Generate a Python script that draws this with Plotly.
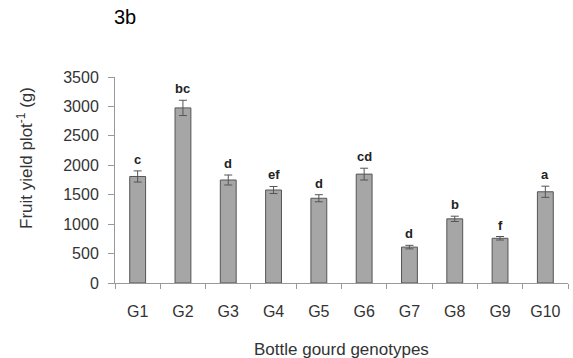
import plotly.graph_objects as go

genotypes = ["G1", "G2", "G3", "G4", "G5", "G6", "G7", "G8", "G9", "G10"]
yield_g = [1810, 2975, 1750, 1580, 1440, 1850, 610, 1090, 760, 1550]
yield_se = [95, 130, 85, 60, 60, 100, 30, 45, 30, 95]
letters = ["c", "bc", "d", "ef", "d", "cd", "d", "b", "f", "a"]
y_ticks = [0, 500, 1000, 1500, 2000, 2500, 3000, 3500]

FONT = "Liberation Sans, Arial, sans-serif"

fig = go.Figure()
fig.add_trace(go.Bar(
    x=genotypes, y=yield_g,
    marker=dict(color="#a6a6a6", line=dict(color="#555555", width=1)),
    error_y=dict(type="data", array=yield_se, visible=True,
                 color="#555555", thickness=1, width=4),
    showlegend=False,
))

for g, v, e, l in zip(genotypes, yield_g, yield_se, letters):
    fig.add_annotation(x=g, y=v + e, text="<b>%s</b>" % l, showarrow=False,
                       yanchor="bottom", yshift=2,
                       font=dict(family=FONT, size=13, color="#222222"))

fig.add_annotation(xref="paper", yref="paper", x=(124.5 - 115) / 453, y=(283 - 16.5) / 206,
                   text="3b", showarrow=False, xanchor="center", yanchor="middle",
                   font=dict(family=FONT, size=20, color="#000000"))
fig.add_annotation(xref="paper", yref="paper", x=(25 - 115) / 453, y=(283 - 158) / 206,
                   text="Fruit yield plot<sup>-1</sup> (g)", showarrow=False, textangle=-90,
                   xanchor="center", yanchor="middle",
                   font=dict(family=FONT, size=17, color="#333333"))
fig.add_annotation(xref="paper", yref="paper", x=0.5, y=(283 - 349) / 206,
                   text="Bottle gourd genotypes", showarrow=False,
                   xanchor="center", yanchor="middle",
                   font=dict(family=FONT, size=17, color="#333333"))

fig.update_layout(
    width=573, height=358,
    margin=dict(l=115, r=5, t=77, b=75),
    paper_bgcolor="white", plot_bgcolor="white",
    bargap=0.65,
    font=dict(family=FONT, size=16, color="#333333"),
)
fig.update_xaxes(
    type="category", showline=True, linecolor="#999999", linewidth=1,
    ticks="outside", tickson="boundaries", ticklen=5, tickcolor="#999999",
    showgrid=False, zeroline=False, ticklabelstandoff=14,
    tickfont=dict(family=FONT, size=16, color="#333333"),
)
fig.update_yaxes(
    range=[0, 3500], tickvals=y_ticks, showline=True, linecolor="#999999", linewidth=1,
    ticks="outside", ticklen=6, tickcolor="#999999",
    showgrid=False, zeroline=False, ticklabelstandoff=6,
    tickfont=dict(family=FONT, size=16, color="#333333"),
)

fig.write_html("out.html")
